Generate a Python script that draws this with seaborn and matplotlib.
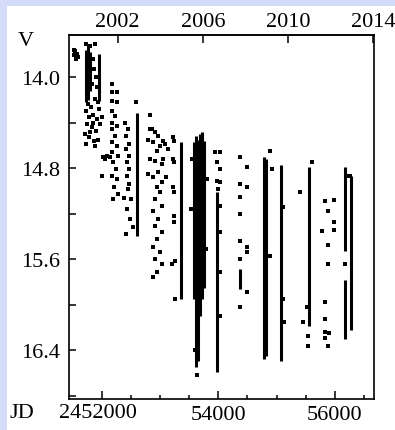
import numpy as np
import pandas as pd
import matplotlib
matplotlib.use("Agg")
import matplotlib.pyplot as plt
import seaborn as sns
from matplotlib.patches import Rectangle

# ---- data (JD - 2450000, V magnitude) ----
# individual observations, season by season
point_jd = [
    # 1999-2000
    51520, 51538, 51520, 51570, 51588, 51555,
    # 2000-2001
    51731, 51799, 51885, 51851, 51868, 51902, 51834, 51919, 51765, 51817,
    51885, 51937, 51731, 51782, 51851, 51919, 51971, 51748, 51834, 51902,
    51782, 51868, 51731, 51954, 52005, 51885, 51799, 51937, 51714, 51860,
    # 2001-2002
    52170, 52170, 52257, 52170, 52262, 52177, 52228, 52177, 52262, 52177,
    52228, 52177, 52262, 52177, 52279, 52194, 52245, 52177, 52262, 52022,
    52091, 52142, 52005, 52211, 52279, 52194, 52057,
    # 2002-2003
    52399, 52451, 52416, 52468, 52416, 52468, 52433, 52468, 52433, 52451,
    52502, 52433, 52485, 52536, 52416, 52468, 52382, 52590,
    # 2003-2004
    52857, 52914, 52965, 52880, 52999, 53051, 52943, 52914, 53028, 52965,
    52880, 53028, 52943, 52999, 52914, 53028, 52880, 52965, 52914, 53028,
    52943, 52880, 52999, 52914, 53028, 52943, 52880, 52794, 52828, 53085,
    53136, 52828, 53051, 52794, 53102, 52828,
    # 2004-2005
    53222, 53239, 53222, 53239, 53222, 53239, 53239, 53239, 53200, 53256,
    53256,
    # 2005-2006
    53633, 53548, 53531, 53805, 53788, 53600, 53660,
    # 2006-2007
    53942, 54028, 53971, 54028, 53971, 54028, 53993, 54028, 54028, 54028,
    54028,
    # 2007-2008
    54370, 54485, 54370, 54485, 54370, 54370, 54370, 54485, 54485, 54370,
    54485, 54370,
    # 2008-2009
    54885, 54915, 54885,
    # 2009-2010
    55113, 55115, 55120,
    # 2010-2011
    55600, 55399, 55445, 55541, 55541, 55514,
    # 2011-2012
    55828, 55982, 55880, 55771, 55982, 55982, 55880, 55880, 55828, 55828,
    55828, 55897, 55828, 55880,
    # 2012-2013
    56200, 56225, 56250, 56180,
]
point_v = [
    13.76, 13.77, 13.81, 13.80, 13.82, 13.84,
    13.71, 13.73, 13.71, 13.84, 13.93, 14.00, 14.06, 14.09, 14.24, 14.26,
    14.19, 14.22, 14.30, 14.35, 14.33, 14.37, 14.41, 14.41, 14.44, 14.47,
    14.53, 14.56, 14.59, 14.28, 14.35, 14.61, 14.48, 14.55, 14.50, 14.40,
    14.06, 14.13, 14.13, 14.21, 14.22, 14.30, 14.34, 14.40, 14.43, 14.46,
    14.52, 14.57, 14.61, 14.66, 14.69, 14.75, 14.81, 14.87, 14.90, 14.70,
    14.69, 14.70, 14.87, 14.97, 15.03, 15.07, 14.72,
    14.40, 14.46, 14.52, 14.59, 14.63, 14.69, 14.75, 14.81, 14.87, 14.98,
    15.07, 15.16, 15.25, 15.32, 15.38, 14.94, 15.06, 14.22,
    14.46, 14.48, 14.52, 14.57, 14.61, 14.56, 14.65, 14.74, 14.76, 14.83,
    14.88, 14.92, 14.97, 15.01, 15.07, 15.13, 15.18, 15.25, 15.31, 15.36,
    15.42, 15.49, 15.54, 15.60, 15.64, 15.71, 15.76, 14.55, 14.46, 14.59,
    14.63, 14.72, 14.72, 14.85, 14.88, 14.33,
    14.53, 14.56, 14.72, 14.75, 14.97, 15.01, 15.22, 15.27, 15.64, 15.62,
    15.95,
    16.62, 14.72, 15.16, 14.90, 15.51, 16.40, 16.30,
    14.66, 14.66, 14.75, 14.81, 14.91, 14.92, 14.98, 15.13, 15.36, 15.71,
    16.10,
    14.70, 14.79, 14.94, 14.97, 15.05, 15.20, 15.44, 15.49, 15.54, 15.60,
    15.89, 16.02,
    14.65, 14.81, 15.57,
    15.14, 15.95, 16.15,
    14.75, 15.01, 16.15, 16.28, 16.36, 16.02,
    15.09, 15.08, 15.18, 15.35, 15.27, 15.34, 15.48, 15.64, 15.98, 16.13,
    16.24, 16.25, 16.29, 16.36,
    14.87, 14.87, 14.87, 15.64,
]

# densely sampled nights that merge into continuous vertical runs
run_jd = [51740, 51770, 51800, 51960, 52605, 53359,
          53580, 53615, 53650, 53685, 53720, 53750,
          53975, 54370, 54790, 54820, 55080, 55560,
          56175, 56175, 56270]
run_v_top = [13.76, 13.72, 13.78, 13.80, 14.32, 14.57,
             14.57, 14.52, 14.55, 14.50, 14.48, 14.56,
             15.01, 15.69, 14.70, 14.72, 14.77, 14.79,
             14.79, 15.78, 14.87]
run_v_bottom = [14.22, 14.20, 14.12, 14.21, 15.40, 15.95,
                15.95, 16.55, 16.50, 16.10, 15.95, 15.85,
                16.59, 15.86, 16.48, 16.45, 16.50, 16.19,
                15.53, 16.30, 16.22]

# axis annotations
y_major = [14.0, 14.8, 15.6, 16.4]
y_minor = [14.4, 15.2, 16.0, 16.8]
x_major = [52000, 54000, 56000]
x_major_labels = ["", "54000", "56000"]
first_x_label = "2452000"
x_prefix = "JD"
x_minor = [52500, 53000, 53500, 54500, 55000, 55500, 56500]
years = ["2002", "2006", "2010", "2014"]
year_jd = [52275.5, 53736.5, 55197.5, 56658.5]

# ---- figure ----
sns.set_theme(style="white")
plt.rcParams["font.family"] = ["Liberation Serif", "DejaVu Serif"]
plt.rcParams["font.size"] = 16

W, H = 395, 431
fig = plt.figure(figsize=(W / 100, H / 100), dpi=100, facecolor="white")
lav = "#D4DCF9"
fig.patches.append(Rectangle((0, 1 - 7 / H), 1, 7 / H, transform=fig.transFigure,
                             facecolor=lav, edgecolor="none", zorder=-5))
fig.patches.append(Rectangle((0, 0), 7 / W, 1, transform=fig.transFigure,
                             facecolor=lav, edgecolor="none", zorder=-5))

ax = fig.add_axes([69 / W, 31 / H, 305 / W, 364 / H])
ax.set_facecolor("white")

df = pd.DataFrame({"JD": point_jd, "V": point_v})
sns.scatterplot(data=df, x="JD", y="V", marker="s", s=6, color="black",
                linewidth=0, ax=ax, legend=False)
ax.vlines(run_jd, run_v_top, run_v_bottom, colors="black", linewidth=2.2)

ax.set_xlim(51440, 56670)
ax.set_ylim(16.83, 13.63)
ax.set_xlabel("")
ax.set_ylabel("")

for s in ax.spines.values():
    s.set_color("black")
    s.set_linewidth(1.2)
    s.set_visible(True)

ax.set_yticks(y_major)
ax.set_yticklabels([f"{v:.1f}" for v in y_major])
ax.set_yticks(y_minor, minor=True)
ax.set_xticks(x_major)
ax.set_xticklabels(x_major_labels)
ax.set_xticks(x_minor, minor=True)

ax.tick_params(axis="y", which="both", direction="in", length=5, width=1.1,
               color="black", left=True, right=False, labelsize=16, pad=6.5,
               labelcolor="black")
ax.tick_params(axis="x", which="major", direction="in", length=6, width=1.1,
               color="black", bottom=True, top=False, labelsize=16, pad=4,
               labelcolor="black")
ax.tick_params(axis="x", which="minor", direction="in", length=3, width=1.1,
               color="black", bottom=True, top=False)

top = ax.secondary_xaxis("top")
top.set_xticks(year_jd)
top.set_xticklabels(years)
top.tick_params(axis="x", direction="in", length=6, width=1.1, color="black",
                labelsize=16, pad=3, labelcolor="black")
top.spines["top"].set_linewidth(1.2)

fig.text(26 / W, 1 - 41 / H, "V", ha="center", va="center", fontsize=16,
         color="black")
fig.text(9 / W, 1 - 414 / H, x_prefix, ha="left", va="center",
         fontsize=16, color="black")
fig.text(137 / W, 1 - 414 / H, first_x_label, ha="right", va="center",
         fontsize=16, color="black")

fig.savefig("out.png", dpi=100, facecolor="white")
